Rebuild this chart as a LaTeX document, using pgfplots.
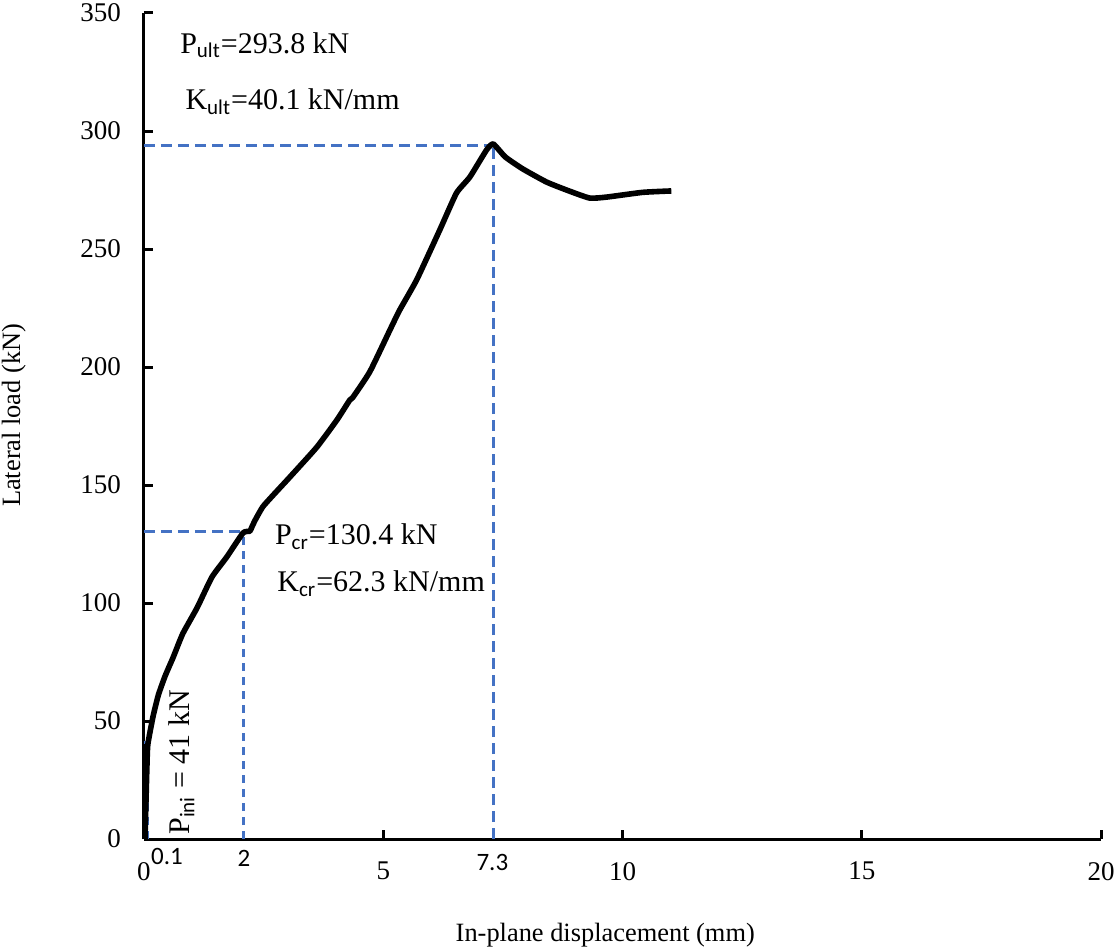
\documentclass[border=0pt]{standalone}
\usepackage{pgfplots}
\pgfplotsset{compat=1.18}
\usepackage{fontspec}
\setmainfont{Liberation Serif}
\newfontfamily\calfont{Carlito}
\definecolor{dblue}{HTML}{4472C4}
\newcommand{\sub}[1]{\textsubscript{\calfont #1}}
\begin{document}
\begin{tikzpicture}
\useasboundingbox (-72pt,-54.5pt) rectangle (486.5pt,419.5pt);
\begin{axis}[
  scale only axis, width=478.5pt, height=413pt,
  xmin=0, xmax=20, ymin=0, ymax=350,
  axis x line*=bottom, axis y line*=left,
  axis line style={line width=1.5pt, -},
  xtick={0,5,10,15,20}, ytick={0,50,...,350},
  tick align=inside, major tick length=4.5pt,
  tick style={line width=1.5pt, black},
  tick label style={font=\fontsize{13.5}{15}\selectfont},
  /pgf/number format/assume math mode=true,
  xticklabel style={yshift=-8pt},
  yticklabel style={xshift=-8pt},
  xlabel={In-plane displacement (mm)},
  ylabel={Lateral load (kN)},
  every axis x label/.style={at={(axis description cs:0.482,-0.116)}, anchor=center, font=\fontsize{13.2}{15}\selectfont},
  every axis y label/.style={at={(axis description cs:-0.136,0.513)}, anchor=center, rotate=90, font=\fontsize{13.2}{15}\selectfont},
  clip=false,
]
% dashed guide lines
\addplot[dblue, line width=1.4pt, dash pattern=on 5.5pt off 3pt] coordinates {(0,293.8) (7.3,293.8)};
\addplot[dblue, line width=1.4pt, dash pattern=on 5.5pt off 3pt] coordinates {(7.3,0) (7.3,293.8)};
\addplot[dblue, line width=1.4pt, dash pattern=on 5.5pt off 3pt] coordinates {(0,130.4) (2.08,130.4)};
\addplot[dblue, line width=1.4pt, dash pattern=on 4pt off 3pt] coordinates {(2.08,0) (2.08,130.4)};
\addplot[dblue, line width=1.4pt, dash pattern=on 4pt off 3pt] coordinates {(0.08,0) (0.08,41)};
\addplot[dblue, line width=1.4pt] coordinates {(0,41) (0.08,41)};
% load-displacement curve
\addplot[black, line width=2.8pt, line join=round, smooth, tension=0.3] coordinates {
(0.02,0) (0.04,15) (0.06,30) (0.08,40) (0.19,52) (0.30,61) (0.44,69) (0.61,77) (0.81,87)
(1.11,98) (1.42,111) (1.73,119.5) (2.07,129.7) (2.21,130.4) (2.25,132) (2.32,135)
(2.48,140.7) (2.69,145.5) (3.05,153.4) (3.61,166) (4.03,177.5) (4.30,186) (4.36,187)
(4.72,198) (5.14,215.7) (5.34,224) (5.70,237) (6.18,258) (6.53,273.7) (6.81,280.5)
(7.16,292) (7.30,294.5) (7.55,289) (7.91,284) (8.41,278.4) (8.83,275) (9.31,271.6)
(9.67,272) (10.42,274) (11.02,274.6)
};
% annotations
\node[anchor=base west, inner sep=0pt, font=\fontsize{15}{17}\selectfont] at (axis cs:0.75,333) {P\sub{ult}=293.8 kN};
\node[anchor=base west, inner sep=0pt, font=\fontsize{15}{17}\selectfont] at (axis cs:0.86,308.9) {K\sub{ult}=40.1 kN/mm};
\node[anchor=base west, inner sep=0pt, font=\fontsize{15}{17}\selectfont] at (axis cs:2.73,124.6) {P\sub{cr}=130.4 kN};
\node[anchor=base west, inner sep=0pt, font=\fontsize{15}{17}\selectfont] at (axis cs:2.78,104.7) {K\sub{cr}=62.3 kN/mm};
\node[anchor=base west, inner sep=0pt, rotate=90, font=\fontsize{15}{17}\selectfont] at (axis cs:0.96,1.7) {P\sub{ini} = 41 kN};
% special tick values
\node[anchor=center, inner sep=0pt, font=\calfont\fontsize{12.5}{14}\selectfont] at (axis cs:0.48,-7.4) {0.1};
\node[anchor=center, inner sep=0pt, font=\calfont\fontsize{12.5}{14}\selectfont] at (axis cs:2.09,-8) {2};
\node[anchor=center, inner sep=0pt, font=\calfont\fontsize{12.5}{14}\selectfont] at (axis cs:7.28,-10) {7.3};
\end{axis}
\end{tikzpicture}
\end{document}
